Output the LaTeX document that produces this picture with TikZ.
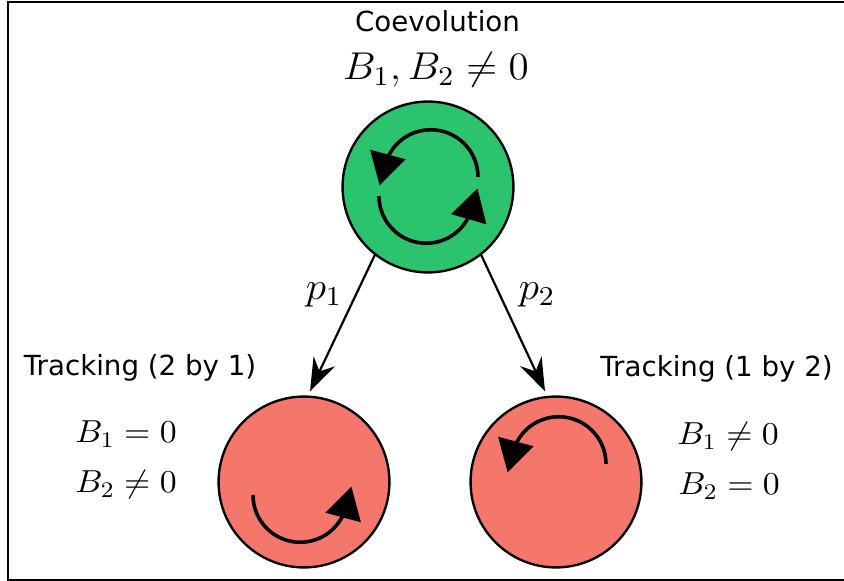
\RequirePackage{fix-cm}
\documentclass[tikz,border=0pt]{standalone}
\usepackage{fontspec}
\newfontfamily\labelfont{DejaVu Sans}
\usetikzlibrary{shapes.geometric, arrows.meta, calc}

\definecolor{coevo}{HTML}{2CC36F}
\definecolor{track}{HTML}{F5766A}

\begin{document}
\begin{tikzpicture}[
    x=1.27cm, y=1.27cm,
    state/.style={circle, draw=black, line width=0.85pt, minimum size=2.17cm, inner sep=0pt, fill=#1},
    heading/.style={font=\labelfont\fontsize{10}{12}\selectfont, anchor=base, inner sep=0pt},
    formula/.style={font=\fontsize{#1}{#1}\selectfont, anchor=base, inner sep=0pt, xscale=1.06, transform shape},
    spin/.style={line width=1.3pt},
    spinhead/.style={regular polygon, regular polygon sides=3, fill=black, inner sep=0pt, minimum size=0.54cm},
    link/.style={-{Stealth[length=12pt, width=8.5pt, inset=4pt]}, line width=0.8pt}
]
\useasboundingbox (0,0) rectangle (8.44,5.81);
\draw[line width=0.6pt] (0.08,0.01) rectangle (8.47,5.79);

% the three states
\node[state=coevo] (co) at (4.28,3.94) {};
\node[state=track] (tl) at (3.04,0.99) {};
\node[state=track] (tr) at (5.56,0.99) {};

% titles and conditions
\node[heading] (co-title) at (4.375,5.49) {Coevolution};
\node[formula=14] (co-cond) at (4.36,5.01) {$B_1, B_2 \neq 0$};
\node[heading] (tl-title) at (1.40,2.05) {Tracking (2 by 1)};
\node[heading] (tr-title) at (7.165,2.04) {Tracking (1 by 2)};
\node[formula=11.5] (tl-b1) at (1.26,1.38) {$B_1 = 0$};
\node[formula=11.5] (tl-b2) at (1.26,0.88) {$B_2 \neq 0$};
\node[formula=11.5] (tr-b1) at (7.28,1.36) {$B_1 \neq 0$};
\node[formula=11.5] (tr-b2) at (7.29,0.86) {$B_2 = 0$};

% transitions
\draw[link] (co.-128) -- ([shift={(0.06,0.04)}]tl.north);
\draw[link] (co.-52) -- ([shift={(-0.11,0.04)}]tr.north);
\node[formula=14] (p1) at (3.24,2.81) {$p_1$};
\node[formula=14] (p2) at (5.37,2.81) {$p_2$};

% rotation arrows
\draw[spin] ($(co)+(0.50,0.10)$) arc[start angle=0, end angle=165, radius=0.6cm] node[spinhead, rotate=165] {};
\draw[spin] ($(co)+(-0.49,-0.09)$) arc[start angle=180, end angle=344, radius=0.6cm] node[spinhead, rotate=344] {};
\draw[spin] ($(tl)+(-0.51,-0.13)$) arc[start angle=180, end angle=345, radius=0.6cm] node[spinhead, rotate=345] {};
\draw[spin] ($(tr)+(0.50,0.18)$) arc[start angle=0, end angle=165, radius=0.6cm] node[spinhead, rotate=165] {};

\end{tikzpicture}
\end{document}
